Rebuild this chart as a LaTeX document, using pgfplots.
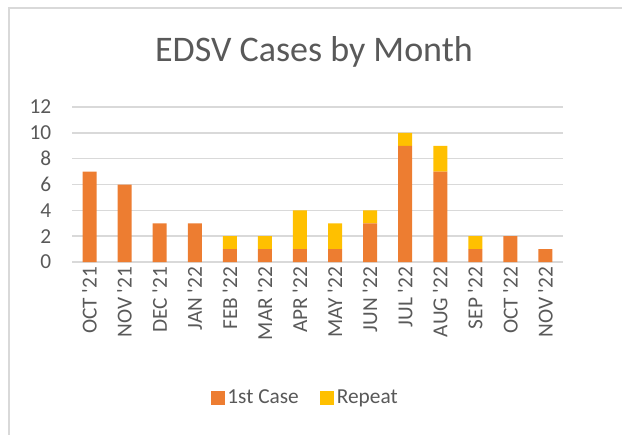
\documentclass[border=0pt]{standalone}
\usepackage{pgfplots}
\pgfplotsset{compat=1.18}
\usepackage{fontspec}
\setmainfont{Carlito}[Ligatures=TeXOff]
\definecolor{first}{HTML}{ED7D31}
\definecolor{repeat}{HTML}{FFC000}
\definecolor{gridc}{HTML}{D9D9D9}
\definecolor{txt}{HTML}{595959}
\begin{document}
\begin{tikzpicture}
\path[use as bounding box] (0,0) rectangle (466.5pt,-326.25pt);
\draw[gridc, line width=1.5pt] (6.75pt,-340pt) -- (6.75pt,-6pt) -- (480pt,-6pt);
\node[anchor=base, txt, font=\fontsize{27}{31}\selectfont] at (235.5pt,-46.5pt) {EDSV Cases by Month};
\begin{axis}[
  at={(54pt,-196.5pt)}, anchor=south west,
  scale only axis, width=368.25pt, height=116.25pt,
  ybar stacked, bar width=10.5pt,
  xmin=-0.5, xmax=13.5, ymin=0, ymax=12,
  ytick={0,2,...,12},
  xtick={0,...,13},
  xticklabels={OCT '21,NOV '21,DEC '21,JAN '22,FEB '22,MAR '22,APR '22,MAY '22,JUN '22,JUL '22,AUG '22,SEP '22,OCT '22,NOV '22},
  x tick label style={rotate=90, anchor=east, xshift=0pt},
  y tick label style={anchor=east, xshift=-12pt},
  tick label style={txt, font=\fontsize{16}{19}\selectfont},
  /pgf/number format/assume math mode=true,
  major tick length=0pt,
  axis line style={draw=none},
  ymajorgrids, grid style={gridc, line width=1.1pt},
  legend style={at={(0.4756,-0.877)}, anchor=center, draw=none, legend columns=2,
    font=\fontsize{16}{19}\selectfont, text=txt,
    /tikz/every even column/.append style={column sep=14pt}},
  legend image code/.code={\fill[#1] (0pt,-5.25pt) rectangle (10.5pt,5.25pt);},
]
\addplot[fill=first, draw=none] coordinates {(0,7) (1,6) (2,3) (3,3) (4,1) (5,1) (6,1) (7,1) (8,3) (9,9) (10,7) (11,1) (12,2) (13,1)};
\addplot[fill=repeat, draw=none] coordinates {(0,0) (1,0) (2,0) (3,0) (4,1) (5,1) (6,3) (7,2) (8,1) (9,1) (10,2) (11,1) (12,0) (13,0)};
\legend{1st Case,Repeat}
\end{axis}
\end{tikzpicture}
\end{document}
